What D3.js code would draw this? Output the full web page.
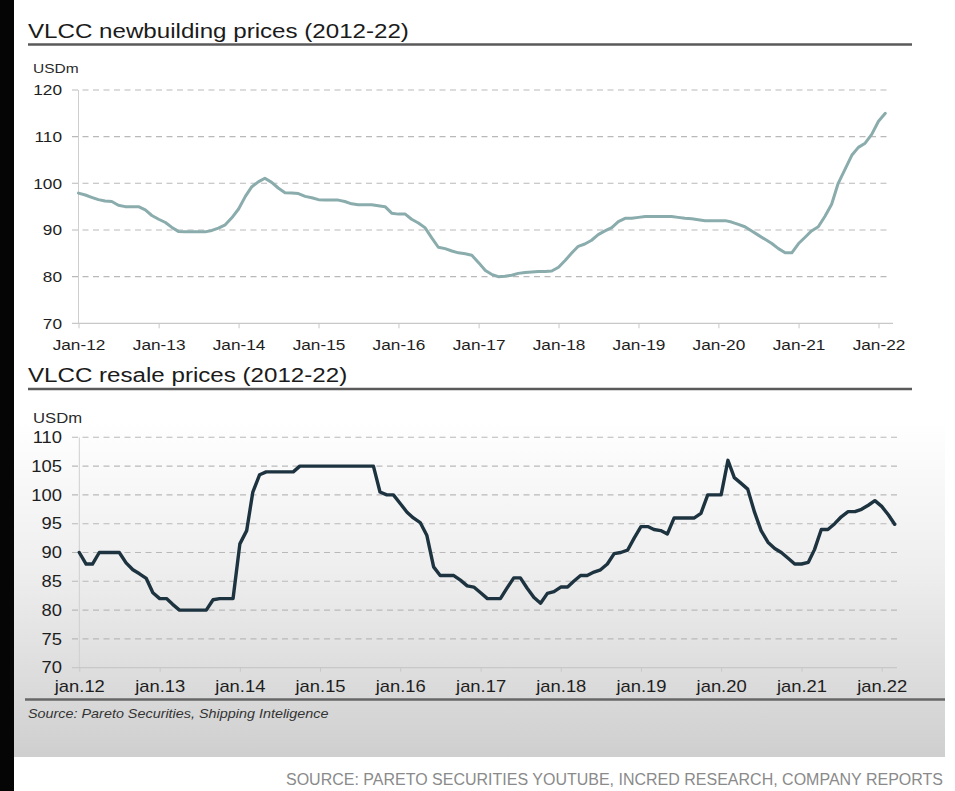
<!DOCTYPE html>
<html>
<head>
<meta charset="utf-8">
<script src="https://cdn.jsdelivr.net/npm/d3@7"></script>
<style>
  html, body { margin: 0; padding: 0; background: #ffffff; }
  svg { display: block; font-family: "Liberation Sans", Arial, sans-serif; }
</style>
</head>
<body>
<svg id="chart" width="955" height="791"></svg>
<script>
// ---- data (USD million, monthly from Jan 2012) ----
const newbuildPrices = [
  97.9, 97.5, 97.0, 96.5, 96.2, 96.1, 95.3, 95.0, 95.0, 95.0, 94.3, 93.1,
  92.3, 91.6, 90.6, 89.7, 89.6, 89.6, 89.6, 89.6, 89.9, 90.4, 91.1, 92.6,
  94.5, 97.2, 99.2, 100.3, 101.1, 100.2, 99.0, 98.0, 97.9, 97.8, 97.2, 96.9,
  96.5, 96.4, 96.4, 96.4, 96.1, 95.6, 95.4, 95.4, 95.4, 95.2, 95.0, 93.6,
  93.4, 93.4, 92.3, 91.5, 90.5, 88.3, 86.3, 86.0, 85.5, 85.1, 84.9, 84.6,
  83.0, 81.3, 80.5, 80.0, 80.1, 80.3, 80.7, 80.9, 81.0, 81.1, 81.1, 81.2,
  82.0, 83.5, 85.0, 86.5, 87.0, 87.8, 89.0, 89.8, 90.5, 91.8, 92.5, 92.5,
  92.7, 92.9, 92.9, 92.9, 92.9, 92.9, 92.7, 92.5, 92.4, 92.2, 92.0, 92.0,
  92.0, 92.0, 91.7, 91.2, 90.7, 89.8, 88.9, 88.0, 87.1, 86.0, 85.1, 85.1,
  87.1, 88.5, 89.8, 90.7, 92.9, 95.5, 100.0, 103.0, 106.0, 107.7, 108.6, 110.5,
  113.3, 115.0
];

const resalePrices = [
  90, 88, 88, 90, 90, 90, 90, 88.2, 87, 86.3, 85.5, 83,
  82, 82, 81, 80, 80, 80, 80, 80, 81.8, 82, 82, 82,
  91.5, 93.8, 100.5, 103.5, 104, 104, 104, 104, 104, 105, 105, 105,
  105, 105, 105, 105, 105, 105, 105, 105, 105, 100.5, 100, 100,
  98.5, 97, 96, 95.2, 93, 87.5, 86, 86, 86, 85.2, 84.2, 84,
  83, 82, 82, 82, 83.8, 85.6, 85.6, 83.8, 82.2, 81.2, 82.9, 83.2,
  84, 84, 85, 86, 86, 86.6, 87, 88, 89.8, 90, 90.4, 92.5,
  94.5, 94.5, 94, 93.8, 93.2, 96, 96, 96, 96, 96.8, 100, 100,
  100, 106, 103, 102, 101, 97, 93.8, 91.8, 90.7, 90, 89, 88,
  88, 88.3, 90.5, 94, 94, 95, 96.2, 97.1, 97.1, 97.5, 98.2, 99,
  98, 96.5, 94.9
];

const tickYears = [2012, 2013, 2014, 2015, 2016, 2017, 2018, 2019, 2020, 2021, 2022];
const newbuildTickLabels = ["Jan-12", "Jan-13", "Jan-14", "Jan-15", "Jan-16", "Jan-17",
                            "Jan-18", "Jan-19", "Jan-20", "Jan-21", "Jan-22"];
const resaleTickLabels = ["jan.12", "jan.13", "jan.14", "jan.15", "jan.16", "jan.17",
                          "jan.18", "jan.19", "jan.20", "jan.21", "jan.22"];
const newbuildYTicks = [70, 80, 90, 100, 110, 120];
const resaleYTicks = [70, 75, 80, 85, 90, 95, 100, 105, 110];

const newbuildTitle = "VLCC newbuilding prices (2012-22)";
const resaleTitle = "VLCC resale prices (2012-22)";
const unitLabel = "USDm";
const chartSource = "Source: Pareto Securities, Shipping Inteligence";
const pageSource = "SOURCE: PARETO SECURITIES YOUTUBE, INCRED RESEARCH, COMPANY REPORTS";

// ---- layout ----
const SX = 1.15;               // horizontal glyph stretch of the exhibit text
const svg = d3.select("#chart");
const start = new Date(2012, 0, 1);
const toSeries = vals => vals.map((v, i) => ({ date: d3.timeMonth.offset(start, i), value: v }));
const tickDates = tickYears.map(y => new Date(y, 0, 1));

// backdrop
const defs = svg.append("defs");
const grad = defs.append("linearGradient")
  .attr("id", "panelFill").attr("gradientUnits", "userSpaceOnUse")
  .attr("x1", 0).attr("y1", 420).attr("x2", 0).attr("y2", 757);
grad.append("stop").attr("offset", 0).attr("stop-color", "#ffffff");
grad.append("stop").attr("offset", 0.45).attr("stop-color", "#eeeeee");
grad.append("stop").attr("offset", 1).attr("stop-color", "#cfcfcf");

svg.append("rect").attr("x", 0).attr("y", 0).attr("width", 955).attr("height", 791).attr("fill", "#ffffff");
svg.append("rect").attr("x", 14).attr("y", 0).attr("width", 931).attr("height", 757).attr("fill", "url(#panelFill)");
svg.append("rect").attr("x", 0).attr("y", 0).attr("width", 14).attr("height", 791).attr("fill", "#050505");

function stretchedText(parent, x, y, str) {
  return parent.append("text")
    .attr("transform", `translate(${x},${y}) scale(${SX},1)`)
    .text(str);
}

function drawPanel(cfg) {
  const g = svg.append("g");

  stretchedText(g, 28, cfg.titleY, cfg.title)
    .attr("font-size", 21).attr("fill", "#1b1b1b");
  g.append("line")
    .attr("x1", 28).attr("x2", 912).attr("y1", cfg.ruleY).attr("y2", cfg.ruleY)
    .attr("stroke", "#5a5a5a").attr("stroke-width", 2.5);
  stretchedText(g, 33, cfg.unitY, unitLabel)
    .attr("font-size", cfg.font - 1.5).attr("fill", "#2a2a2a");

  const x = d3.scaleTime().domain([tickDates[0], tickDates[tickDates.length - 1]])
    .range([cfg.x0, cfg.x1]);
  const y = d3.scaleLinear().domain(cfg.yDomain).range([cfg.yBottom, cfg.yTop]);

  // dashed gridlines
  g.append("g").selectAll("line")
    .data(cfg.yTicks.filter(v => v !== cfg.yDomain[0]))
    .join("line")
    .attr("x1", 72).attr("x2", cfg.gridRight)
    .attr("y1", d => y(d)).attr("y2", d => y(d))
    .attr("stroke", "#b9b9b9").attr("stroke-width", 1.1)
    .attr("stroke-dasharray", "6,4.5");

  // axis lines
  g.append("line")
    .attr("x1", cfg.x0).attr("x2", cfg.x0).attr("y1", y(cfg.yDomain[1])).attr("y2", cfg.yBottom)
    .attr("stroke", "#cfcfcf").attr("stroke-width", 1);
  g.append("line")
    .attr("x1", 72).attr("x2", cfg.axisRight).attr("y1", cfg.yBottom).attr("y2", cfg.yBottom)
    .attr("stroke", "#c8c8c8").attr("stroke-width", 1.2);

  // y labels
  const yAxis = d3.axisLeft(y).tickValues(cfg.yTicks).tickSize(0).tickPadding(10);
  const yg = g.append("g").attr("transform", "translate(72,0)").call(yAxis);
  yg.select(".domain").remove();
  yg.selectAll("text")
    .attr("x", -10 / SX)
    .attr("transform", `scale(${SX},1)`)
    .attr("font-family", "Liberation Sans, Arial, sans-serif")
    .attr("font-size", cfg.font).attr("fill", "#1e1e1e");

  // x axis ticks and labels
  const xAxis = d3.axisBottom(x).tickValues(tickDates)
    .tickFormat((d, i) => cfg.tickLabels[i])
    .tickSizeInner(cfg.tickLen).tickSizeOuter(0).tickPadding(cfg.tickPad);
  const xg = g.append("g").attr("transform", `translate(0,${cfg.yBottom})`).call(xAxis);
  xg.select(".domain").remove();
  xg.selectAll("line").attr("stroke", "#c8c8c8");
  xg.selectAll("text")
    .attr("transform", `scale(${SX},1)`)
    .attr("font-family", "Liberation Sans, Arial, sans-serif")
    .attr("font-size", cfg.font).attr("fill", "#1e1e1e");

  // price line
  const line = d3.line().x(d => x(d.date)).y(d => y(d.value));
  g.append("path")
    .datum(toSeries(cfg.values))
    .attr("d", line)
    .attr("fill", "none")
    .attr("stroke", cfg.color)
    .attr("stroke-width", cfg.lineWidth)
    .attr("stroke-linejoin", "round")
    .attr("stroke-linecap", "round");
}

drawPanel({
  title: newbuildTitle, titleY: 37.5, ruleY: 44.5, unitY: 72.5,
  x0: 78.5, x1: 878.5, gridRight: 890, axisRight: 893,
  yTop: 90, yBottom: 323.3, yDomain: [70, 120], yTicks: newbuildYTicks,
  tickLabels: newbuildTickLabels, tickLen: 5, tickPad: 11, font: 15,
  values: newbuildPrices, color: "#8aacac", lineWidth: 3
});

drawPanel({
  title: resaleTitle, titleY: 382, ruleY: 389, unitY: 422.5,
  x0: 79.3, x1: 881.7, gridRight: 897, axisRight: 897,
  yTop: 437.3, yBottom: 667.7, yDomain: [70, 110], yTicks: resaleYTicks,
  tickLabels: resaleTickLabels, tickLen: 4, tickPad: 9, font: 16,
  values: resalePrices, color: "#1d3340", lineWidth: 3.4
});

// footer
svg.append("line")
  .attr("x1", 25).attr("x2", 945).attr("y1", 699.5).attr("y2", 699.5)
  .attr("stroke", "#676767").attr("stroke-width", 2.5);
stretchedText(svg, 28, 718, chartSource)
  .attr("font-size", 12.5).attr("font-style", "italic").attr("fill", "#333333");
svg.append("text")
  .attr("x", 943).attr("y", 785).attr("text-anchor", "end")
  .attr("font-size", 16).attr("fill", "#8a8a8a")
  .text(pageSource);
</script>
</body>
</html>
